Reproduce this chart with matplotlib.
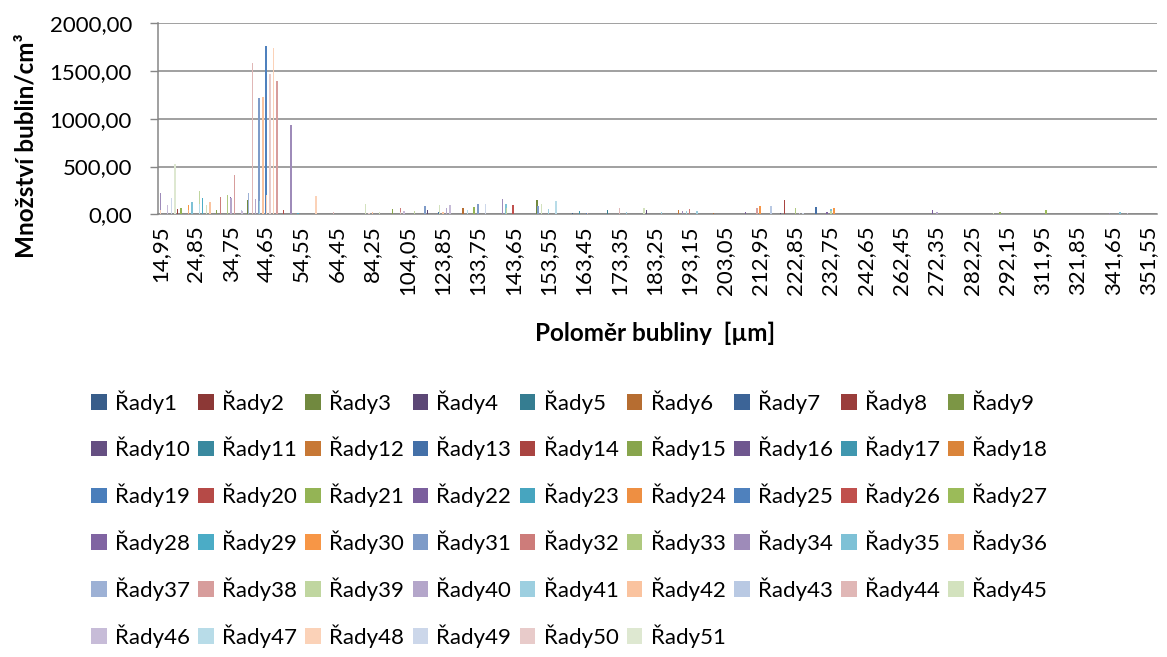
import numpy as np
import matplotlib
matplotlib.use('Agg')
import matplotlib.pyplot as plt
from matplotlib.patches import Patch

plt.rcParams['font.family'] = ['Lato', 'DejaVu Sans']

n_series = 51
n_cat = 283

# category labels shown on the axis (every 10th category)
tick_cats = list(range(0, 281, 10))
tick_labels = ['14,95', '24,85', '34,75', '44,65', '54,55', '64,45', '84,25', '104,05',
               '123,85', '133,75', '143,65', '153,55', '163,45', '173,35', '183,25',
               '193,15', '203,05', '212,95', '222,85', '232,75', '242,65', '262,45',
               '272,35', '282,25', '292,15', '311,95', '321,85', '341,65', '351,55']

# non-zero bars: category index, series number, value
bar_category = [0, 0, 2, 3, 3, 4, 4, 5, 6, 6, 8, 8, 9, 9, 11, 11, 12, 13, 14, 16,
                17, 19, 20, 20, 21, 23,
                23, 25, 25, 26, 27, 27, 28, 28, 29, 30, 30, 31, 31, 32, 32, 32, 33,
                35, 37, 39, 44, 49,
                58, 59, 60, 62, 66, 68, 68, 69, 69, 72, 75, 76, 79, 79, 80, 81, 81,
                82, 86, 87, 89, 90, 92, 97, 98, 98, 100, 107, 107, 108, 110, 112,
                117, 119, 121, 121, 127, 130, 132, 137, 138, 142, 147, 148, 149, 150,
                152, 157, 166, 169, 170, 173, 176, 177, 180, 180, 181, 182, 186, 189,
                190, 190, 191, 219, 220, 236, 238, 251, 269, 272, 274]
bar_series = [34, 48, 46, 44, 49, 44, 51, 8, 16, 21, 30, 36, 19, 35, 39, 47, 29, 45, 42, 15,
              32, 33, 28, 40, 38, 43,
              46, 37, 3, 44, 40, 36, 41, 31, 42, 25, 48, 50, 40, 48, 37, 43, 38,
              20, 34, 29, 48, 44,
              45, 50, 42, 45, 15, 44, 32, 46, 40, 39, 31, 4, 13, 45, 42, 36, 40,
              46, 6, 47, 21, 31, 49, 34, 39, 35, 26, 3, 31, 45, 41, 47,
              1, 17, 19, 44, 5, 44, 41, 45, 4, 41, 12, 34, 41, 32,
              41, 6, 22, 38, 30, 43, 4, 14, 33, 27, 46, 49, 13, 28,
              39, 35, 30, 22, 40, 45, 21, 27, 34, 35, 46]
bar_value = [227, 45, 98, 52, 168, 122, 527, 56, 56, 63, 98, 45, 108, 133, 244, 108, 171, 101, 129, 42,
             185, 202, 181, 175, 412, 45,
             35, 226, 153, 1586, 164, 84, 136, 1215, 1232, 1760, 198, 1465, 1190, 1742, 1030, 971, 1400,
             42, 940, 14, 195, 24,
             110, 18, 21, 21, 53, 25, 64, 39, 21, 35, 89, 50, 28, 96, 25, 64, 67,
             96, 64, 50, 75, 110, 110, 160, 64, 110, 100, 153, 89, 113, 60, 138,
             18, 39, 18, 14, 46, 64, 25, 67, 46, 28, 43, 39, 35, 57,
             39, 18, 28, 64, 89, 89, 18, 153, 64, 53, 14, 14, 78, 25,
             39, 53, 67, 50, 28, 14, 25, 43, 14, 28, 14]

palette = ['#385D8A', '#8C3836', '#71893F', '#5C4776', '#357D91', '#B66D31',
           '#3C6497', '#9A3D3B', '#7C9645', '#654F82', '#3A899F', '#C77835',
           '#4470A8', '#A94441', '#88A54D', '#6F578F', '#4097AF', '#DA843A',
           '#4A7EBB', '#B64A47', '#94B455', '#7B5F9D', '#47A5BF', '#EE8F42',
           '#4F81BD', '#C0504D', '#9BBB59', '#8064A2', '#4BACC6', '#F79646',
           '#7E9BC8', '#CD7C7A', '#AFC97F', '#9E8BB9', '#7EC1D6', '#F8B07E',
           '#9DB1D5', '#D79D9C', '#C0D6A0', '#B4A6CA', '#9DCFE0', '#FAC39F',
           '#B9C9E3', '#E0B7B6', '#D3E2BE', '#C7BCD8', '#B8DCE8', '#FBD2B8',
           '#CCD7EA', '#E8CBCA', '#DEE8D1']

values = np.zeros((n_series, n_cat))
for c, s, v in zip(bar_category, bar_series, bar_value):
    values[s - 1, c] = v

fig = plt.figure(figsize=(11.67, 6.57), dpi=100)
ax = fig.add_axes([0.1357, 0.6738, 0.8557, 0.2907])

cats = np.arange(n_cat)
group = 0.4
w = group / n_series
for k in range(n_series):
    mask = values[k] > 0
    if not mask.any():
        continue
    x = cats[mask] - group / 2 + (k + 0.5) * w
    ax.bar(x, values[k][mask], width=0.4, color=palette[k], linewidth=0, zorder=3)

grey = '#868686'
ax.set_xlim(-0.5, n_cat - 0.5)
ax.set_ylim(0, 2000)
yt = np.arange(0, 2001, 500)
ax.set_yticks(yt)
ax.set_yticklabels([('%.2f' % v).replace('.', ',') for v in yt])
ax.set_xticks(tick_cats)
ax.set_xticklabels(tick_labels, rotation=90)
ax.tick_params(axis='x', length=0, pad=8, labelsize=16)
ax.tick_params(axis='y', length=6, width=1, color=grey, pad=13, labelsize=16)
ax.yaxis.grid(True, color=grey, linewidth=1.1, zorder=0)
ax.set_axisbelow(True)
for side in ['top', 'right']:
    ax.spines[side].set_visible(False)
for side in ['left', 'bottom']:
    ax.spines[side].set_color(grey)
    ax.spines[side].set_linewidth(1.1)

fig.text(0.022, 1 - 146 / 657, 'Množství bublin/cm³', rotation=90, ha='center', va='center',
         fontsize=17.5, fontweight='bold')
fig.text(655 / 1167, 1 - 333 / 657, 'Poloměr bubliny  [µm]', ha='center', va='center',
         fontsize=17.5, fontweight='bold')

handles = [Patch(facecolor=palette[k], edgecolor='none') for k in range(n_series)]
labels = ['Řady%d' % (k + 1) for k in range(n_series)]
order = [r * 9 + c for c in range(9) for r in range(6) if r * 9 + c < n_series]
fig.legend([handles[i] for i in order], [labels[i] for i in order], ncol=9,
           loc='upper left', bbox_to_anchor=(0.078, 1 - 390 / 657), frameon=False,
           fontsize=16, handlelength=0.7, handleheight=0.7, handletextpad=0.37,
           columnspacing=0.38, labelspacing=1.05, borderpad=0, borderaxespad=0)

fig.savefig('out.png', dpi=100)
